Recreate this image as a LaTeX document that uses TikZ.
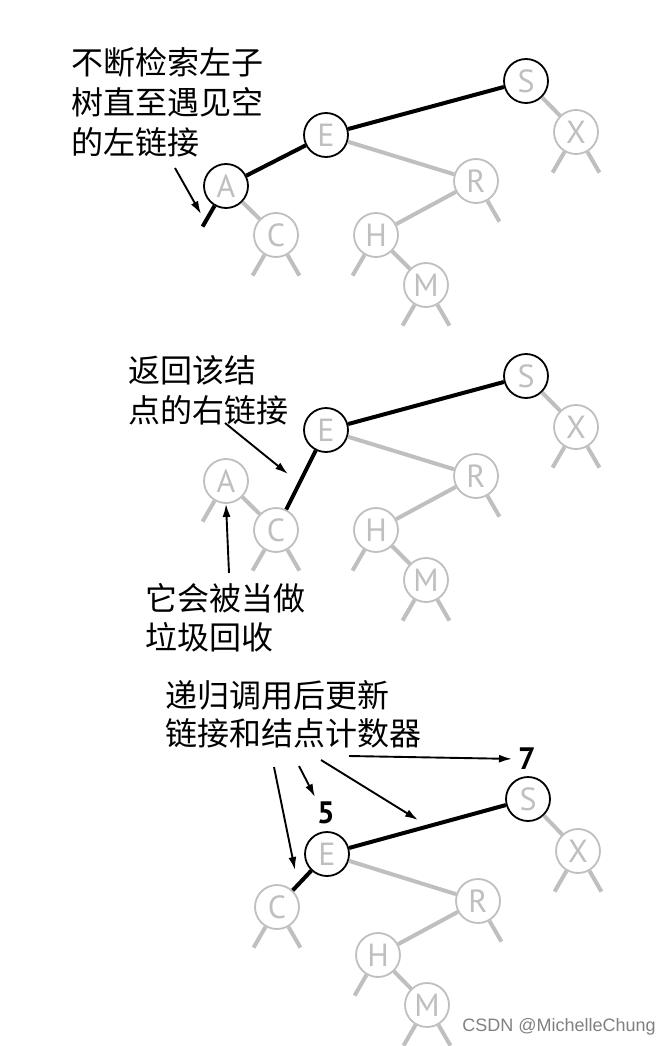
\documentclass[tikz,border=0pt]{standalone}
\usepackage{fontspec}
\setmainfont{PT Sans}
\newfontfamily\cjk{Noto Sans CJK SC}
\newfontfamily\wmfont{Liberation Sans}
\usetikzlibrary{arrows.meta}
\definecolor{lgray}{rgb}{0.75, 0.75, 0.75}
\tikzset{tnode/.style = {circle, draw = lgray, line width = 1.8, fill = white, minimum size = 44, inner sep = 0, text = lgray, font = \fontsize{32}{32}\selectfont}}
\tikzset{onpath/.style = {tnode, draw = black}}
\tikzset{link/.style = {lgray, line width = 4}}
\tikzset{blink/.style = {black, line width = 4}}
\tikzset{note/.style = {inner sep = 0, anchor = base west, font = \cjk\fontsize{32}{32}\selectfont}}
\tikzset{cnt/.style = {inner sep = 0, font = \bfseries\fontsize{31}{31}\selectfont}}
\tikzset{pointer/.style = {-{Latex[length = 13, width = 8]}, line width = 1.9}}

\begin{document}
\begin{tikzpicture}[x = 1pt, y = 1pt]

      \useasboundingbox (0, 0) rectangle (671, -1046);

      % first step
      \node [note] (n1a) at (71, -75) {不断检索左子};
      \node [note] (n1b) at (71, -115) {树直至遇见空};
      \node [note] (n1c) at (71, -154) {的左链接};

      \node [onpath] (s1) at (526, -81) {S};
      \node [onpath] (e1) at (326, -135) {E};
      \node [onpath] (a1) at (226, -186) {A};
      \node [tnode] (x1) at (576, -132) {X};
      \node [tnode] (r1) at (476, -181) {R};
      \node [tnode] (c1) at (276, -235) {C};
      \node [tnode] (h1) at (376, -235) {H};
      \node [tnode] (m1) at (426, -285) {M};

      \draw [link] (s1) -- (x1);
      \draw [link] (e1) -- (r1);
      \draw [link] (a1) -- (c1);
      \draw [link] (r1) -- (h1);
      \draw [link] (h1) -- (m1);
      \draw [link] (x1.240) -- +(240:24pt);
      \draw [link] (x1.300) -- +(300:24pt);
      \draw [link] (r1.300) -- +(300:24pt);
      \draw [link] (c1.240) -- +(240:24pt);
      \draw [link] (c1.300) -- +(300:24pt);
      \draw [link] (h1.240) -- +(240:24pt);
      \draw [link] (m1.240) -- +(240:24pt);
      \draw [link] (m1.300) -- +(300:24pt);
      \draw [blink] (s1) -- (e1);
      \draw [blink] (e1) -- (a1);
      \draw [blink] (a1.240) -- +(240:24pt);

      \coordinate (p1) at (175, -168);
      \coordinate (q1) at (201, -214);
      \draw [pointer] (p1) -- (q1);

      % second step
      \node [note] (n2a) at (128, -382) {返回该结};
      \node [note] (n2b) at (128, -422) {点的右链接};
      \node [note] (n2c) at (145, -610) {它会被当做};
      \node [note] (n2d) at (145, -649) {垃圾回收};

      \node [onpath] (s2) at (526, -376) {S};
      \node [onpath] (e2) at (326, -430) {E};
      \node [tnode] (a2) at (226, -481) {A};
      \node [tnode] (x2) at (576, -427) {X};
      \node [tnode] (r2) at (476, -476) {R};
      \node [tnode] (c2) at (276, -530) {C};
      \node [tnode] (h2) at (376, -530) {H};
      \node [tnode] (m2) at (426, -580) {M};

      \draw [link] (s2) -- (x2);
      \draw [link] (e2) -- (r2);
      \draw [link] (a2) -- (c2);
      \draw [link] (r2) -- (h2);
      \draw [link] (h2) -- (m2);
      \draw [link] (x2.240) -- +(240:24pt);
      \draw [link] (x2.300) -- +(300:24pt);
      \draw [link] (r2.300) -- +(300:24pt);
      \draw [link] (a2.240) -- +(240:24pt);
      \draw [link] (c2.240) -- +(240:24pt);
      \draw [link] (c2.300) -- +(300:24pt);
      \draw [link] (h2.240) -- +(240:24pt);
      \draw [link] (m2.240) -- +(240:24pt);
      \draw [link] (m2.300) -- +(300:24pt);
      \draw [blink] (s2) -- (e2);
      \draw [blink] (e2) -- (c2);

      \coordinate (p2) at (225, -423);
      \coordinate (q2) at (288, -474);
      \coordinate (p3) at (229, -573);
      \draw [pointer] (p2) -- (q2);
      \draw [pointer] (p3) -- (a2.south);

      % third step
      \node [note] (n3a) at (165, -707) {递归调用后更新};
      \node [note] (n3b) at (165, -745) {链接和结点计数器};

      \node [onpath] (s3) at (528, -799) {S};
      \node [onpath] (e3) at (327, -854) {E};
      \node [tnode] (x3) at (578, -851) {X};
      \node [tnode] (r3) at (478, -901) {R};
      \node [tnode] (c3) at (277, -907) {C};
      \node [tnode] (h3) at (378, -955) {H};
      \node [tnode] (m3) at (427, -1005) {M};
      \node [cnt] (seven) at (527, -759) {7};
      \node [cnt] (five) at (326, -813) {5};

      \draw [link] (s3) -- (x3);
      \draw [link] (e3) -- (r3);
      \draw [link] (r3) -- (h3);
      \draw [link] (h3) -- (m3);
      \draw [link] (x3.240) -- +(240:24pt);
      \draw [link] (x3.300) -- +(300:24pt);
      \draw [link] (r3.300) -- +(300:24pt);
      \draw [link] (c3.240) -- +(240:24pt);
      \draw [link] (c3.300) -- +(300:24pt);
      \draw [link] (h3.240) -- +(240:24pt);
      \draw [link] (m3.240) -- +(240:24pt);
      \draw [link] (m3.300) -- +(300:24pt);
      \draw [blink] (s3) -- (e3);
      \draw [blink] (e3) -- (c3);

      \coordinate (p4) at (349, -756);
      \coordinate (p5) at (321, -760);
      \coordinate (q5) at (418, -820);
      \coordinate (p6) at (299, -766);
      \coordinate (q6) at (315, -797);
      \coordinate (p7) at (274, -767);
      \coordinate (q7) at (295, -870);
      \draw [pointer, shorten > = 6] (p4) -- (seven.west);
      \draw [pointer] (p5) -- (q5);
      \draw [pointer] (p6) -- (q6);
      \draw [pointer] (p7) -- (q7);

      \node [inner sep = 0, text = gray, font = \wmfont\fontsize{18}{18}\selectfont] (mark) at (559, -1027) {CSDN @MichelleChung};

    \end{tikzpicture}
\end{document}
